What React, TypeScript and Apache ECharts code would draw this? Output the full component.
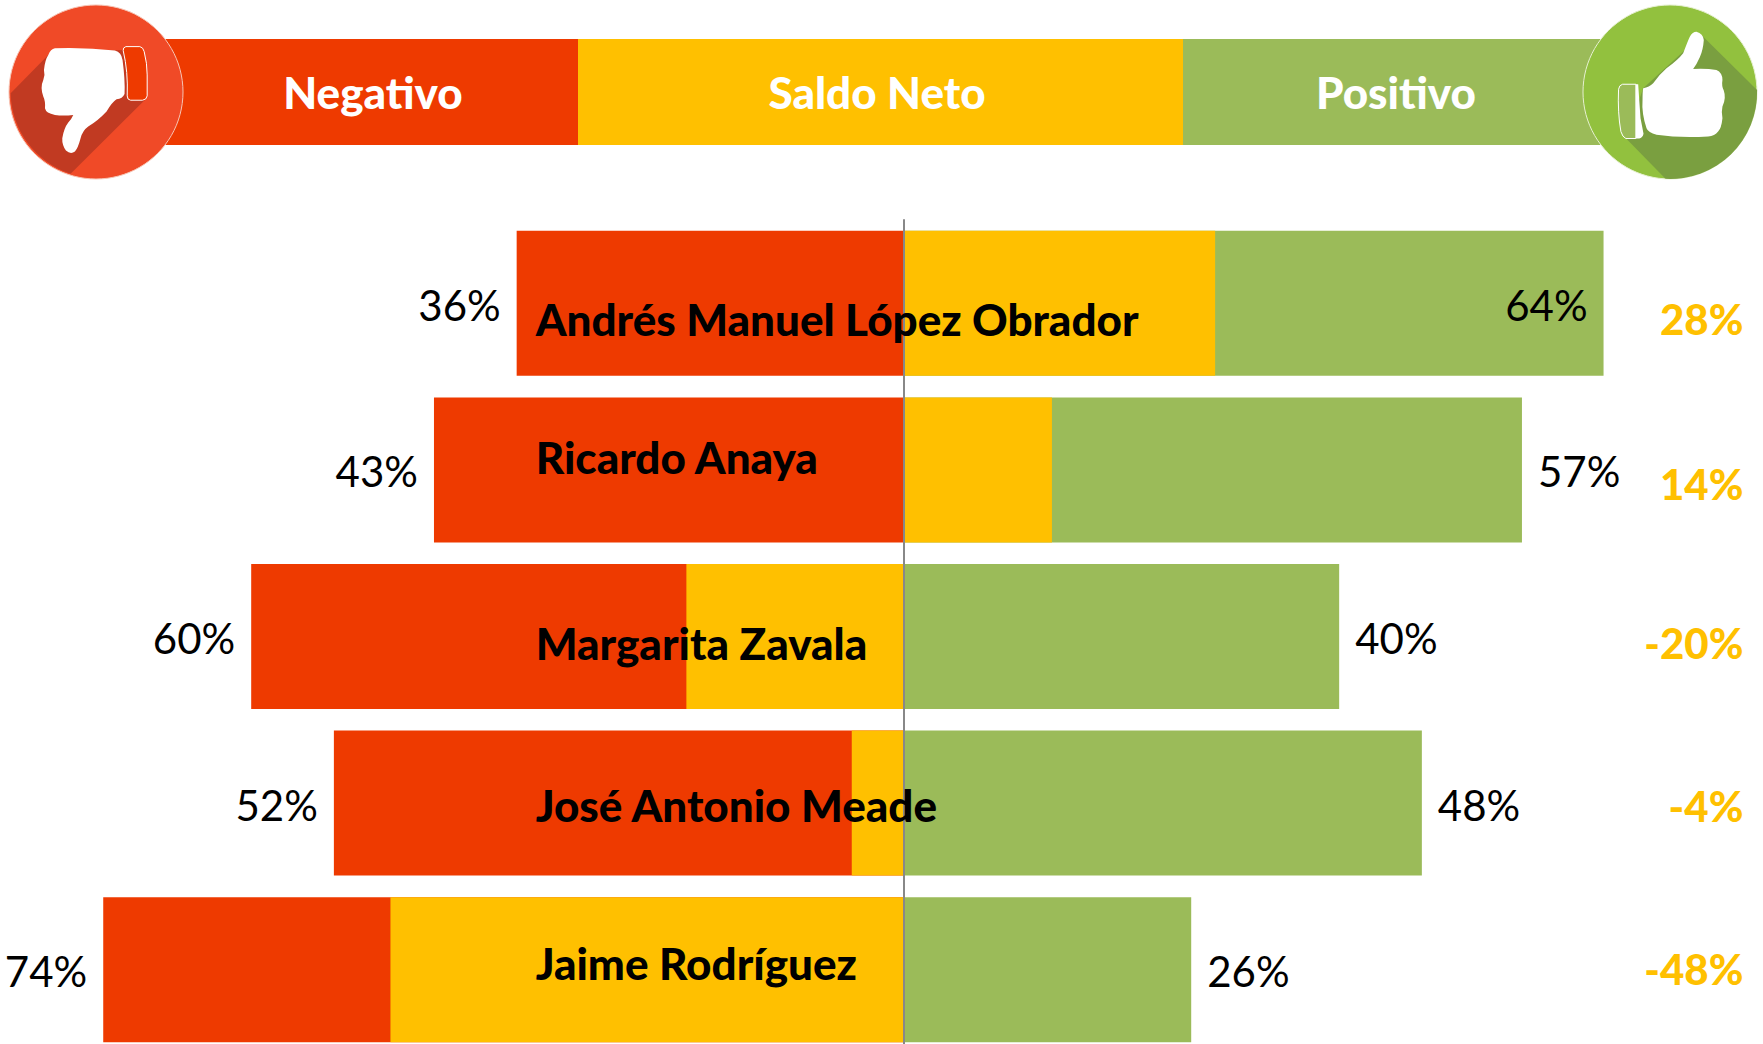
import React, { useEffect, useRef } from "react";
import * as echarts from "echarts";

const candidates = ["Andrés Manuel López Obrador", "Ricardo Anaya", "Margarita Zavala", "José Antonio Meade", "Jaime Rodríguez"];
const negativeValues = [-35.6, -43.2, -60, -52.4, -73.6];
const positiveValues = [64.3, 56.8, 40, 47.6, 26.4];
const netValues = [28.6, 13.6, -20, -4.8, -47.2];
const netLabels = ["28%", "14%", "-20%", "-4%", "-48%"];
const legendNames = ["Negativo", "Saldo Neto", "Positivo"];

const RED = "#EE3A00";
const YELLOW = "#FFC000";
const GREEN = "#9BBB59";
const FONT = "Lato, Carlito, 'Open Sans', sans-serif";

const nameOffsets = [16, -13, 6, 2, -7];
const netOffsets = [16, 14, 6, 3, -1];
const NAME_X = -33.9;
const NET_X = 77.2;

echarts.graphic.registerShape("downShadow", echarts.graphic.extendPath(
  "M32 280 L150 160 L370 150 L440 295 L212 522 A260 260 0 0 1 32 280 Z", {}));
echarts.graphic.registerShape("downThumb", echarts.graphic.extendPath(
  "M165 145 Q260 142 345 152 Q365 158 368 180 Q376 240 374 282 Q368 296 350 298 Q335 308 320 335 Q295 362 265 380 Q248 392 242 415 Q234 445 225 455 Q212 465 198 452 Q186 435 187 415 Q192 385 205 368 Q216 355 220 345 Q190 348 165 345 Q138 340 135 325 Q137 305 130 290 Q120 262 130 240 Q136 225 132 210 Q135 180 145 165 Q152 147 165 145 Z", {}));
echarts.graphic.registerShape("downCuff", echarts.graphic.extendPath(
  "M378 140 L420 140 Q430 142 433 155 Q442 190 442 225 L442 288 Q440 300 428 301 L392 301 Q382 300 382 288 Q385 215 370 152 Q369 142 378 140 Z", {}));
echarts.graphic.registerShape("upShadow", echarts.graphic.extendPath(
  "M605 105 L772 270 A260 260 0 0 1 497 537 L378 415 L430 265 Z", {}));
echarts.graphic.registerShape("upThumb", echarts.graphic.extendPath(
  "M590 95 Q610 100 612 120 Q610 150 600 172 Q590 195 580 207 Q620 205 650 210 Q668 218 668 240 Q665 258 672 272 Q680 295 668 320 Q664 338 668 355 Q665 385 655 395 Q645 408 625 410 Q540 415 470 405 Q445 398 440 385 Q425 340 428 300 Q428 275 430 265 Q448 262 460 250 Q480 222 500 205 Q535 180 550 160 Q565 120 570 110 Q578 95 590 95 Z", {}));
echarts.graphic.registerShape("upCuffBack", echarts.graphic.extendPath(
  "M405 253 L415 253 Q418 300 422 355 Q428 385 431 402 Q428 415 418 416 L400 416 Z", {}));
echarts.graphic.registerShape("upCuff", echarts.graphic.extendPath(
  "M368 253 L408 253 L408 416 L378 416 Q368 412 363 395 Q353 340 356 268 Q358 255 368 253 Z", {}));

const band = (x: number, width: number, fill: string) => ({
  type: "rect", shape: { x, y: 39, width, height: 106 }, style: { fill }, z: 1,
});
const bandText = (text: string, x: number) => ({
  type: "text", x, y: 92, z: 3,
  style: { text, fill: "#fff", font: `900 44px ${FONT}`, textAlign: "center", textVerticalAlign: "middle" },
});
const icon = (type: string, style: object, ox = 0) => ({
  type, x: ox, y: 0, scaleX: 1 / 3, scaleY: 1 / 3, z: 5, style,
});

export default function App() {
  const ref = useRef<HTMLDivElement>(null);
  useEffect(() => {
    const chart = echarts.init(ref.current!, null, { renderer: "svg" });
    const valueLabel = (position: string) => ({
      show: true, position, distance: 16, offset: [0, 1.5], color: "#000",
      fontFamily: FONT, fontSize: 42,
      formatter: (p: any) => `${Math.round(Math.abs(p.value))}%`,
    });
    chart.setOption({
      animation: false,
      backgroundColor: "#fff",
      grid: { left: 33.6, width: 1719, top: 220, height: 833 },
      xAxis: { type: "value", min: -80, max: 78, show: false, splitLine: { show: false } },
      yAxis: {
        type: "category", data: candidates, inverse: true, z: 4,
        axisTick: { show: false }, axisLabel: { show: false },
        axisLine: { show: true, onZero: true, lineStyle: { color: "#888", width: 2 } },
      },
      series: [
        {
          name: "Negativo", type: "bar", data: negativeValues, barWidth: 145, barGap: "-100%",
          itemStyle: { color: RED }, label: valueLabel("left"), z: 2,
        },
        {
          name: "Positivo", type: "bar", barWidth: 145, barGap: "-100%", itemStyle: { color: GREEN }, z: 2,
          label: valueLabel("right"),
          data: positiveValues.map((value, i) =>
            i === 0 ? { value, label: { position: "insideRight" } } : value),
        },
        {
          name: "Saldo Neto", type: "bar", data: netValues, barWidth: 145, barGap: "-100%",
          itemStyle: { color: YELLOW }, z: 3,
        },
        {
          type: "scatter", symbolSize: 1, itemStyle: { color: "transparent", opacity: 1 }, z: 6, silent: true,
          data: candidates.map((name, i) => ({
            value: [NAME_X, name],
            label: {
              show: true, position: "right", distance: 0, offset: [0, nameOffsets[i]], opacity: 1,
              formatter: name, color: "#000", fontFamily: FONT, fontWeight: 900, fontSize: 44,
            },
          })),
        },
        {
          type: "scatter", symbolSize: 1, itemStyle: { color: "transparent", opacity: 1 }, z: 6, silent: true,
          data: candidates.map((name, i) => ({
            value: [NET_X, name],
            label: {
              show: true, position: "left", distance: 0, offset: [0, netOffsets[i]], opacity: 1,
              formatter: netLabels[i], color: YELLOW, fontFamily: FONT, fontWeight: 900, fontSize: 42,
            },
          })),
        },
      ],
      graphic: [
        band(150, 428, RED),
        band(578, 605, YELLOW),
        band(1183, 417, GREEN),
        bandText(legendNames[0], 373),
        bandText(legendNames[1], 877),
        bandText(legendNames[2], 1396),
        { type: "circle", shape: { cx: 96, cy: 92, r: 87 }, z: 4, style: { fill: "#F04A27", stroke: "#f7c4b4", lineWidth: 1 } },
        icon("downShadow", { fill: "#C13A22" }),
        icon("downThumb", { fill: "#fff" }),
        icon("downCuff", { fill: RED, stroke: "#fff", lineWidth: 3 }),
        { type: "circle", shape: { cx: 1670, cy: 92, r: 87 }, z: 4, style: { fill: "#92C13E", stroke: "#e6f0d0", lineWidth: 1 } },
        icon("upShadow", { fill: "#7A9F40" }, 1500),
        icon("upThumb", { fill: "#fff" }, 1500),
        icon("upCuffBack", { fill: "#fff" }, 1500),
        icon("upCuff", { fill: GREEN, stroke: "#fff", lineWidth: 3 }, 1500),
      ],
    });
    return () => chart.dispose();
  }, []);
  return (
    <div style={{ position: "absolute", left: 0, top: 0, width: 1763, height: 1044, overflow: "hidden" }}>
      <div ref={ref} style={{ width: 1763, height: 1060 }} />
    </div>
  );
}
